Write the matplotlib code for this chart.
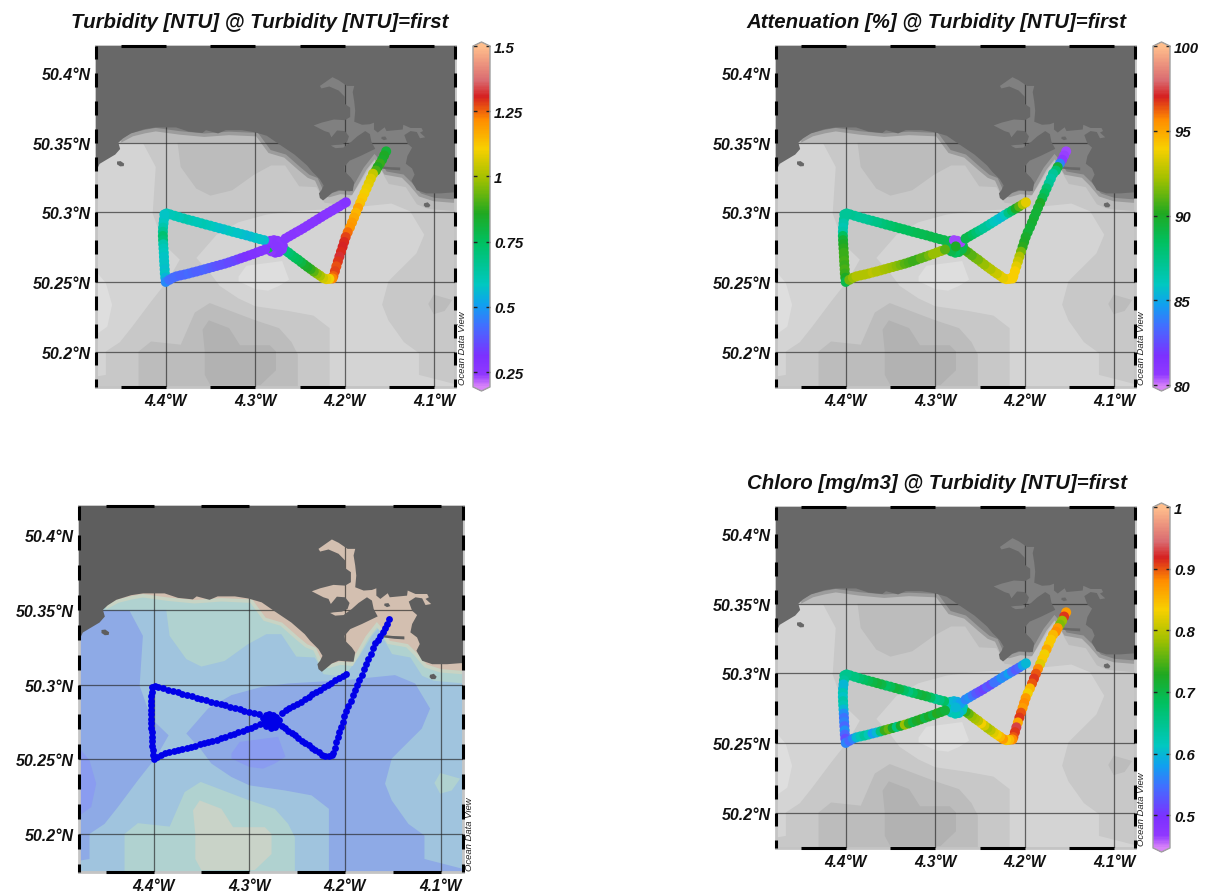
import numpy as np
import matplotlib
matplotlib.use('Agg')
import matplotlib.pyplot as plt
from matplotlib.colors import LinearSegmentedColormap, Normalize
from matplotlib.cm import ScalarMappable

plt.rcParams['font.family'] = 'Liberation Sans'

# ---- ship track ----
track_lon = [-4.1535,-4.1558,-4.1580,-4.1605,-4.1630,-4.1650,-4.1682,-4.1706,-4.1730,-4.1754,-4.1778,-4.1802,-4.1826,-4.1850,-4.1873,-4.1895,-4.1917,-4.1940,-4.1965,-4.1988,-4.2005,-4.2022,-4.2040,-4.2058,-4.2075,-4.2092,-4.2108,-4.2125,-4.2135,
  -4.2170,-4.2205,-4.2240,-4.2275,-4.2310,-4.2345,-4.2380,-4.2415,-4.2450,-4.2485,-4.2520,-4.2555,-4.2590,-4.2625,-4.2660,
  -4.2770,-4.2735,-4.2810,-4.2770,-4.2735,-4.2810,
  -4.2690,-4.2700,-4.2735,-4.2775,-4.2820,-4.2850,-4.2855,-4.2830,-4.2790,-4.2750,-4.2715,-4.2770,
  -4.290,-4.295,-4.300,-4.305,-4.310,-4.315,-4.320,-4.325,-4.330,-4.335,-4.340,-4.345,-4.350,-4.355,-4.360,-4.365,-4.370,-4.375,-4.380,-4.385,-4.390,-4.395,-4.399,-4.4015,
  -4.4020,-4.4025,-4.4030,-4.4032,-4.4032,-4.4030,-4.4028,-4.4025,-4.4022,-4.4020,-4.4018,-4.4015,-4.4012,-4.4010,-4.4005,-4.4000,
  -4.3960,-4.3920,-4.3880,-4.3835,-4.3790,-4.3745,-4.3700,-4.3655,-4.3610,-4.3565,-4.3520,-4.3475,-4.3430,-4.3385,-4.3340,-4.3295,-4.3250,-4.3205,-4.3160,-4.3115,-4.3070,-4.3025,-4.2980,-4.2935,-4.2890,
  -4.2660,-4.2620,-4.2580,-4.2540,-4.2500,-4.2460,-4.2420,-4.2380,-4.2340,-4.2300,-4.2260,-4.2220,-4.2180,-4.2140,-4.2100,-4.2060,-4.2020,-4.1985]
track_lat = [50.3438,50.3408,50.3378,50.3350,50.3325,50.3300,50.3277,50.3242,50.3207,50.3172,50.3137,50.3102,50.3067,50.3032,50.2997,50.2962,50.2927,50.2892,50.2857,50.2822,50.2787,50.2752,50.2717,50.2682,50.2647,50.2612,50.2577,50.2542,50.2525,
  50.2522,50.2520,50.2528,50.2545,50.2560,50.2575,50.2592,50.2608,50.2625,50.2642,50.2660,50.2675,50.2692,50.2710,50.2725,
  50.2735,50.2760,50.2760,50.2780,50.2740,50.2735,
  50.2760,50.2735,50.2715,50.2710,50.2720,50.2745,50.2775,50.2795,50.2800,50.2795,50.2785,50.2755,
  50.2800,50.2808,50.2817,50.2826,50.2835,50.2843,50.2852,50.2860,50.2869,50.2878,50.2886,50.2895,50.2904,50.2912,50.2921,50.2930,50.2939,50.2947,50.2956,50.2965,50.2975,50.2985,50.2992,50.2985,
  50.2950,50.2920,50.2890,50.2860,50.2830,50.2800,50.2770,50.2740,50.2710,50.2680,50.2650,50.2620,50.2590,50.2560,50.2530,50.2500,
  50.2515,50.2530,50.2540,50.2547,50.2553,50.2560,50.2568,50.2575,50.2583,50.2591,50.2599,50.2607,50.2615,50.2623,50.2631,50.2640,50.2650,50.2660,50.2670,50.2680,50.2690,50.2700,50.2712,50.2722,50.2733,
  50.2812,50.2827,50.2842,50.2857,50.2871,50.2886,50.2902,50.2918,50.2934,50.2950,50.2966,50.2982,50.2997,50.3012,50.3027,50.3042,50.3058,50.3072]
turbidity = [.82,.85,.84,.88,.86,.90,1.04,1.07,1.08,1.09,1.10,1.12,1.13,1.18,1.15,1.17,1.19,1.2,1.24,1.28,1.30,1.31,1.30,1.32,1.29,1.27,1.28,1.25,1.22,
  1.10,1.08,1.05,1.0,.97,.92,.88,.85,.84,.8,.77,.75,.74,.72,.70,
  .27,.27,.27,.27,.27,.27,
  .27,.26,.27,.28,.25,.78,.3,.27,.26,.27,.26,.27,
  .57,.58,.58,.57,.56,.57,.58,.58,.59,.58,.57,.58,.59,.6,.61,.6,.6,.61,.62,.6,.61,.6,.6,.58,
  .58,.59,.62,.66,.72,.70,.62,.60,.59,.58,.58,.58,.57,.58,.55,.47,
  .43,.42,.42,.41,.41,.42,.41,.40,.40,.41,.40,.39,.38,.37,.37,.36,.36,.35,.33,.32,.31,.30,.30,.29,.29,
  .27,.27,.27,.27,.26,.27,.27,.27,.27,.27,.28,.27,.27,.27,.27,.27,.27,.28]
attenuation = [80.5,80.6,80.8,84,89.5,88,87,86.7,87,88,88.5,89,90,89.7,89.5,89.5,89.7,89.5,89.5,89.8,90,90.3,91.5,92.5,93,93.5,94,94,94,
  94,94,93.5,93.5,93,93,92.5,92.5,92,92,91.5,91.5,91,91,90.5,
  89,89,89,89,89,89,
  89,89,89,88.5,89,89,88.5,89,80.5,80.5,80.5,90,
  89,89,89,89,89,88.8,88.8,88.7,88.6,88.5,88.5,88.4,88.2,88,87.8,87.5,87.4,87.2,87,87,87,87.2,87,87,
  87,86.5,86.3,86.5,88.5,89.5,90,90.3,90.5,90.5,90.7,90.5,90.8,90.5,90,89,
  91.5,92,92.5,92.5,92.5,92.5,92.7,92.5,92.5,92.3,92.2,92,91.8,91.5,91,90.8,90.5,90.5,91,91,91.5,92,92,92,91,
  89,89,88.5,88,87.5,87,87,86.5,86,85.8,85.5,86,87.5,88.5,90,91,92.5,93.5]
chloro = [.87,.91,.78,.77,.87,.88,.85,.84,.84,.86,.83,.84,.82,.88,.90,.91,.90,.85,.83,.87,.88,.87,.90,.91,.86,.93,.91,.90,.88,
  .85,.84,.87,.85,.83,.82,.80,.79,.81,.83,.80,.79,.78,.76,.74,
  .62,.62,.62,.62,.62,.62,
  .62,.62,.6,.62,.62,.61,.62,.63,.60,.59,.58,.6,
  .68,.66,.65,.68,.70,.71,.70,.68,.66,.68,.70,.71,.69,.68,.70,.71,.70,.69,.68,.67,.66,.66,.65,.65,
  .64,.6,.6,.62,.61,.63,.62,.6,.57,.55,.56,.54,.57,.54,.52,.56,
  .54,.56,.6,.62,.64,.62,.58,.6,.66,.74,.76,.72,.66,.72,.78,.74,.7,.72,.73,.7,.72,.7,.73,.72,.71,
  .56,.57,.55,.53,.52,.51,.53,.52,.55,.55,.57,.56,.58,.55,.53,.54,.58,.6]

# ---- map outlines (lon, lat) ----
land_lon = [-4.49,-4.479,-4.474,-4.467,-4.4565,-4.451,-4.453,-4.448,-4.439,-4.4234,-4.411,-4.3885,-4.3745,-4.359,-4.355,-4.3415,-4.333,-4.315,-4.301,-4.287,-4.2734,-4.256,-4.242,-4.2364,-4.2276,-4.2234,-4.2259,-4.2287,-4.2276,-4.2241,-4.2206,-4.2136,-4.2066,
  -4.1909,-4.1892,-4.1927,-4.1997,-4.2003,-4.1944,-4.1822,-4.1657,-4.1699,-4.1717,-4.1769,-4.1857,-4.1927,-4.2014,-4.2101,-4.2154,-4.2119,-4.2031,-4.1972,-4.1951,-4.1997,-4.2084,-4.2147,-4.2171,-4.2224,-4.2346,-4.2259,-4.2119,-4.1997,-4.1937,-4.1937,-4.1997,-4.1997,-4.2066,-4.2171,-4.2259,-4.2276,-4.2136,-4.2066,-4.1972,-4.1892,-4.1909,-4.1892,-4.1881,-4.1892,-4.1804,-4.1717,-4.1671,-4.1671,-4.1629,-4.1552,-4.1531,-4.135,-4.1343,-4.1262,-4.114,-4.1122,-4.1157,-4.1098,-4.1157,-4.1192,-4.1262,-4.1332,-4.1297,-4.1245,-4.1297,-4.1315,-4.1245,-4.1217,-4.1252,-4.1192,-4.1087,-4.093,-4.079,-4.06,-4.06,-4.49]
land_lat = [50.325,50.328,50.3348,50.3375,50.3415,50.3455,50.35,50.353,50.3567,50.3598,50.361,50.361,50.358,50.357,50.359,50.3567,50.359,50.359,50.3576,50.355,50.349,50.3415,50.3337,50.3293,50.3237,50.3192,50.3159,50.3136,50.3103,50.3085,50.3103,50.3141,50.3159,
  50.3152,50.3215,50.3248,50.3293,50.3327,50.3371,50.3405,50.3456,50.3506,50.3562,50.3584,50.3546,50.3506,50.3465,50.3461,50.3479,50.3483,50.3488,50.3506,50.3546,50.3584,50.3588,50.3539,50.3573,50.3584,50.3624,50.3644,50.3667,50.3662,50.3685,50.3752,50.3779,50.383,50.3875,50.3904,50.389,50.3908,50.3971,50.3949,50.3908,50.3908,50.3864,50.3796,50.3729,50.3651,50.3629,50.3633,50.3644,50.3595,50.3573,50.3611,50.3584,50.3595,50.3629,50.3606,50.3606,50.3584,50.3573,50.3539,50.3532,50.3577,50.3584,50.3555,50.3494,50.3465,50.3405,50.3349,50.3315,50.3271,50.3226,50.3159,50.3136,50.3136,50.3143,50.3143,50.43,50.43]
island_a_lon = [-4.4545,-4.4505,-4.4465,-4.4470,-4.4510,-4.4545]
island_a_lat = [50.3365,50.3368,50.3350,50.3332,50.3330,50.3345]
island_b_lon = [-4.1594,-4.1500,-4.1378,-4.1378,-4.1480,-4.1594]
island_b_lat = [50.3331,50.3325,50.3322,50.3302,50.3306,50.3315]
island_c_lon = [-4.1110,-4.1070,-4.1040,-4.1055,-4.1095,-4.1115]
island_c_lat = [50.3065,50.3072,50.3052,50.3036,50.3036,50.3050]
island_d_lon = [-4.1585,-4.1545,-4.1525,-4.1560,-4.1590]
island_d_lat = [50.3542,50.3545,50.3525,50.3518,50.3530]

band1_left_lon = [-4.49,-4.4251,-4.4112,-4.4146,-4.4024,-4.3843,-4.3972,-4.4164,-4.4374,-4.4513,-4.4670,-4.4670,-4.4775,-4.49]
band1_left_lat = [50.35,50.3493,50.3326,50.2991,50.2772,50.2660,50.2515,50.2359,50.2179,50.2067,50.2000,50.1832,50.1821,50.18]
band1_mid_lon = [-4.3658,-4.3431,-4.3186,-4.2872,-4.2593,-4.2006,-4.1476,-4.1266,-4.1109,-4.1196,-4.1441,-4.151,-4.158,-4.151,-4.1336,-4.1168,-4.1168,-4.076,-4.06,-4.06,-4.2167,-4.2167,-4.2348,-4.2628,-4.2998,-4.3186,-4.3396,-4.3501]
band1_mid_lat = [50.2672,50.2839,50.2929,50.2984,50.3007,50.3029,50.3063,50.3007,50.2839,50.2705,50.2549,50.2504,50.2336,50.2224,50.2067,50.1989,50.1832,50.1765,50.175,50.16,50.16,50.2168,50.2258,50.2291,50.2325,50.2381,50.2471,50.2561]
band0_left_lon = [-4.49,-4.4775,-4.467,-4.46,-4.4653,-4.4775,-4.49]
band0_left_lat = [50.2572,50.2572,50.2493,50.2336,50.2179,50.2123,50.2123]
band0_mid_lon = [-4.3186,-4.3099,-4.2698,-4.2621,-4.2733,-4.2855,-4.2998,-4.3186]
band0_mid_lat = [50.2538,50.2616,50.265,50.2516,50.2471,50.2437,50.2448,50.2504]
band3_south_lon = [-4.4304,-4.4304,-4.4164,-4.3832,-4.3675,-4.3508,-4.3274,-4.2998,-4.2733,-4.2593,-4.2523,-4.2523]
band3_south_lat = [50.16,50.2,50.2072,50.2049,50.228,50.2348,50.2291,50.2224,50.2168,50.2067,50.1978,50.16]
band3_east_lon = [-4.1064,-4.1004,-4.0795,-4.0882,-4.1004]
band3_east_lat = [50.2341,50.2408,50.237,50.2291,50.2269]
band3_coast_lon = [-4.453,-4.3868,-4.3833,-4.3658,-4.3501,-4.3257,-4.3013,-4.2821,-4.2665,-4.2508,-4.2316,-4.2294,-4.2224,-4.2084,-4.1962,-4.1857,-4.1717,-4.1640,-4.1594,-4.1507,-4.1315,-4.1192,-4.107,-4.079,-4.06,-4.06,-4.453]
band3_coast_lat = [50.35,50.35,50.3326,50.317,50.312,50.3158,50.327,50.3337,50.3337,50.3187,50.3181,50.3159,50.3069,50.3058,50.3092,50.3181,50.3327,50.3385,50.3304,50.3204,50.3181,50.3058,50.3025,50.3009,50.3005,50.38,50.38]
band4_south_lon = [-4.3564,-4.3501,-4.2942,-4.2767,-4.2767,-4.2837,-4.3169,-4.3291,-4.3518,-4.3588,-4.3564]
band4_south_lat = [50.1832,50.1758,50.1758,50.1865,50.2,50.2045,50.2045,50.2168,50.2224,50.2157,50.2]
shore_lon = [-4.4478,-4.4373,-4.4234,-4.4112,-4.385,-4.3571,-4.3292,-4.2978,-4.2839,-4.2665,-4.2508,-4.2403,-4.2316,-4.2276,-4.2241,-4.2171,-4.2049,-4.1927,-4.1857,-4.1769,-4.1665,-4.1625,-4.1542,-4.135,-4.1262,-4.1157,-4.1,-4.079,-4.06,-4.06,-4.4478]
shore_lat = [50.3522,50.3558,50.358,50.3594,50.3571,50.3554,50.3567,50.3558,50.3437,50.3404,50.3315,50.3259,50.3237,50.3181,50.3125,50.3121,50.3143,50.3136,50.3215,50.3315,50.3400,50.3370,50.3282,50.326,50.3204,50.3125,50.3092,50.3081,50.308,50.42,50.42]

# ---- axes text ----
lon_ticks = [-4.4, -4.3, -4.2, -4.1]
lat_ticks = [50.2, 50.25, 50.3, 50.35, 50.4]
lon_labels = ['4.4°W', '4.3°W', '4.2°W', '4.1°W']
lat_labels = ['50.2°N', '50.25°N', '50.3°N', '50.35°N', '50.4°N']
turb_ticks = [0.25, 0.5, 0.75, 1, 1.25, 1.5]
turb_tick_labels = ['0.25', '0.5', '0.75', '1', '1.25', '1.5']
att_ticks = [80, 85, 90, 95, 100]
att_tick_labels = ['80', '85', '90', '95', '100']
chl_ticks = [0.5, 0.6, 0.7, 0.8, 0.9, 1]
chl_tick_labels = ['0.5', '0.6', '0.7', '0.8', '0.9', '1']

W, H = 1205, 895
fig = plt.figure(figsize=(W/100, H/100), dpi=100)
FONT = dict(fontweight='bold', fontstyle='italic', color='#111111')

def px_axes(x0, y0, x1, y1):
    return fig.add_axes([x0/W, 1-y1/H, (x1-x0)/W, (y1-y0)/H])

cmap = LinearSegmentedColormap.from_list('odv', [
    (0.0, '#d884f8'), (0.035, '#9038ff'), (0.09, '#7c30ff'), (0.18, '#4070ff'), (0.24, '#10a0f0'),
    (0.30, '#00c8c0'), (0.424, '#00c060'), (0.51, '#20a820'), (0.61, '#a0c000'),
    (0.70, '#f8d000'), (0.785, '#ff8c00'), (0.853, '#d62020'), (0.90, '#d96a70'),
    (1.0, '#ffbe8c')])
cmap.set_under('#d884f8')
cmap.set_over('#ffbe8c')

GRAY = dict(b0='#dedede', b1='#d4d4d4', b2='#c8c8c8', b3='#bcbcbc', b4='#b2b2b2',
            shore='#808080', strip='#9c9c9c', land='#686868')
COLOR = dict(b0='#8a9cf0', b1='#8eaae6', b2='#a0c4de', b3='#b0d2d0', b4='#c9d3c8',
             shore='#d3bfb0', strip='#c8d4c4', land='#5e5e5e')

def draw_map(ax, pal):
    ax.set_facecolor(pal['b2'])
    for lo, la, c in [(band1_left_lon, band1_left_lat, 'b1'), (band1_mid_lon, band1_mid_lat, 'b1'),
                      (band0_left_lon, band0_left_lat, 'b0'), (band0_mid_lon, band0_mid_lat, 'b0'),
                      (band3_south_lon, band3_south_lat, 'b3'), (band3_east_lon, band3_east_lat, 'b3'),
                      (band3_coast_lon, band3_coast_lat, 'b3'), (band4_south_lon, band4_south_lat, 'b4')]:
        ax.fill(lo, la, color=pal[c], lw=0, zorder=1)
    ax.fill(shore_lon, shore_lat, facecolor=pal['shore'], edgecolor=pal['strip'], lw=2.5, zorder=2)
    ax.fill(land_lon, land_lat, color=pal['land'], lw=0, zorder=3)
    for lo, la in [(island_a_lon, island_a_lat), (island_b_lon, island_b_lat),
                   (island_c_lon, island_c_lat), (island_d_lon, island_d_lat)]:
        ax.fill(lo, la, color=pal['land'], lw=0, zorder=3)

    ax.set_xlim(-4.478, -4.0765)
    ax.set_ylim(50.1745, 50.4195)
    ax.set_xticks(lon_ticks, lon_labels, fontsize=11.2, **FONT)
    ax.set_yticks(lat_ticks, lat_labels, fontsize=11.5, **FONT)
    ax.tick_params(length=0, pad=4)
    ax.grid(True, color='#222222', alpha=0.65, lw=0.9, zorder=4)
    ax.set_axisbelow(False)
    for s in ax.spines.values():
        s.set_color('#c4c4c4')
        s.set_linewidth(2.0)
    x0, x1 = ax.get_xlim()
    y0, y1 = ax.get_ylim()
    for lo in np.arange(-4.45, x1, 0.1):
        for yy in (y0, y1):
            ax.plot([lo, min(lo+0.05, x1)], [yy, yy], color='k', lw=2.2,
                    solid_capstyle='butt', clip_on=False, zorder=6)
    for la in np.arange(50.17, y1, 0.02):
        for xx in (x0, x1):
            ax.plot([xx, xx], [max(la, y0), min(la+0.01, y1)], color='k', lw=2.2,
                    solid_capstyle='butt', clip_on=False, zorder=6)

def add_colorbar(x0, y0, x1, y1, norm, ticks, labels):
    cax = px_axes(x0, y0-4, x1, y1+4)
    cb = fig.colorbar(ScalarMappable(norm=norm, cmap=cmap), cax=cax, extend='both',
                      extendfrac=0.012, ticks=ticks)
    cb.set_ticklabels(labels, fontsize=10.8, **FONT)
    cb.ax.yaxis.set_ticks_position('both')
    cb.ax.tick_params(direction='in', length=3, width=1, color='#222222', pad=3,
                      labelleft=False, labelright=True)
    cb.outline.set_edgecolor('#a0a0a0')
    cb.outline.set_linewidth(1.0)
    cb.minorticks_off()

def panel(box, title, title_xy, odv_xy, values=None, norm=None, pal=GRAY, cbar=None):
    ax = px_axes(*box)
    draw_map(ax, pal)
    if values is None:
        ax.scatter(track_lon, track_lat, s=24, color='#0000e8', lw=0, zorder=5)
    else:
        ax.scatter(track_lon, track_lat, c=values, s=52, cmap=cmap, norm=norm, lw=0, zorder=5)
    if title:
        fig.text(title_xy[0]/W, 1-title_xy[1]/H, title, ha='center', va='center', fontsize=14.65, **FONT)
    fig.text(odv_xy[0]/W, 1-odv_xy[1]/H, 'Ocean Data View', rotation=90, ha='center', va='bottom',
             fontsize=6.8, fontstyle='italic', color='#222222')
    if cbar:
        add_colorbar(*cbar, norm, *(cbar_ticks[title]))

t1 = 'Turbidity [NTU] @ Turbidity [NTU]=first'
t3 = 'Attenuation [%] @ Turbidity [NTU]=first'
t4 = 'Chloro [mg/m3] @ Turbidity [NTU]=first'
cbar_ticks = {t1: (turb_ticks, turb_tick_labels), t3: (att_ticks, att_tick_labels), t4: (chl_ticks, chl_tick_labels)}

panel((96, 47, 455, 388), t1, (259.5, 22), (462, 385), turbidity, Normalize(0.193, 1.5), cbar=(473, 47, 490, 388))
panel((776, 47, 1135, 388), t3, (936.5, 22), (1142, 385), attenuation, Normalize(79.9, 100), cbar=(1153, 47, 1170, 388))
panel((79, 507, 463, 873), None, None, (470, 871), pal=COLOR)
panel((776, 508, 1135, 849), t4, (937, 484), (1142, 846), chloro, Normalize(0.447, 1), cbar=(1153, 508, 1170, 849))

fig.savefig('out.png', dpi=100, facecolor='white')
